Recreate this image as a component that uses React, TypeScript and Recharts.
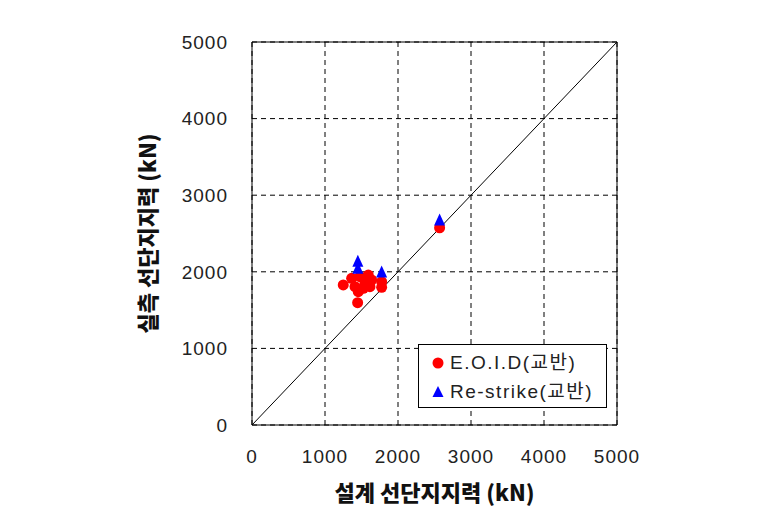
import React from 'react';
import {
  ScatterChart,
  Scatter,
  XAxis,
  YAxis,
  CartesianGrid,
  ReferenceLine,
  ReferenceArea,
  Label,
} from 'recharts';

// 설계 선단지지력 (kN) vs 실측 선단지지력 (kN)
const eoidDesign = [1250, 1447, 1365, 1479, 1593, 1639, 1411, 1525, 1616, 1456, 1548, 1776, 1776, 2570];
const eoidMeasured = [1828, 1597, 1915, 1937, 1958, 1893, 1806, 1785, 1806, 1741, 1850, 1871, 1798, 2575];

const restrikeDesign = [1450, 1450, 1776, 2570];
const restrikeMeasured = [2130, 2040, 1990, 2670];

const axisTicks = [0, 1000, 2000, 3000, 4000, 5000];

const eoidData = eoidDesign.map((x, i) => ({ x, y: eoidMeasured[i] }));
const restrikeData = restrikeDesign.map((x, i) => ({ x, y: restrikeMeasured[i] }));

const tickFont = {
  fontSize: 19,
  fill: '#222',
  fontFamily: '"Liberation Sans", Arial, sans-serif',
  letterSpacing: 1,
};
const labelFont = '"Noto Sans CJK KR", "Noto Sans", sans-serif';

const RedDot = (props: any) => {
  const { cx, cy } = props;
  return <circle cx={cx} cy={cy} r={5.5} fill="#FF0000" />;
};

const BlueTriangle = (props: any) => {
  const { cx, cy } = props;
  const h = 12;
  const w = 11;
  return (
    <polygon
      points={`${cx},${cy - h / 2 - 1} ${cx - w / 2},${cy + h / 2 - 1} ${cx + w / 2},${cy + h / 2 - 1}`}
      fill="#0000FF"
    />
  );
};

const LegendBox = () => (
  <div
    style={{
      position: 'absolute',
      left: 418,
      top: 344,
      border: '1px solid #000',
      background: '#fff',
      width: 189,
      height: 64,
      boxSizing: 'border-box',
      padding: '3px 0 0 11px',
      fontFamily: '"Liberation Sans", "Noto Sans CJK KR", sans-serif',
      fontSize: 19,
      letterSpacing: 1.5,
      color: '#222',
      lineHeight: '29px',
      whiteSpace: 'nowrap',
    }}
  >
    <div style={{ display: 'flex', alignItems: 'center' }}>
      <svg width={16} height={16} style={{ marginRight: 4 }}>
        <circle cx={8} cy={8} r={5.5} fill="#FF0000" />
      </svg>
      E.O.I.D(교반)
    </div>
    <div style={{ display: 'flex', alignItems: 'center' }}>
      <svg width={16} height={16} style={{ marginRight: 4 }}>
        <polygon points="8,2 2.5,13 13.5,13" fill="#0000FF" />
      </svg>
      Re-strike(교반)
    </div>
  </div>
);

const XTitle = (props: any) => {
  const { viewBox } = props;
  return (
    <text
      x={viewBox.x + viewBox.width / 2}
      y={491}
      textAnchor="middle"
      dominantBaseline="central"
      fontFamily={labelFont}
      fontWeight="900"
      fontSize={22}
      fill="#111"
    >
      설계 선단지지력 (kN)
    </text>
  );
};

const YTitle = (props: any) => {
  const { viewBox } = props;
  const cy = viewBox.y + viewBox.height / 2;
  return (
    <text
      x={146}
      y={cy}
      textAnchor="middle"
      dominantBaseline="central"
      transform={`rotate(-90, 146, ${cy})`}
      fontFamily={labelFont}
      fontWeight="900"
      fontSize={22}
      fill="#111"
    >
      실측 선단지지력 (kN)
    </text>
  );
};

export default function App() {
  return (
    <div style={{ position: 'absolute', left: 0, top: 0, width: 757, height: 513, background: '#fff' }}>
      <ScatterChart width={757} height={513} margin={{ top: 42, right: 140, bottom: 0, left: 0 }}>
        <CartesianGrid stroke="#000" strokeDasharray="5 4" strokeWidth={1} />
        <XAxis
          type="number"
          dataKey="x"
          domain={[0, 5000]}
          ticks={axisTicks}
          height={88}
          axisLine={false}
          tickLine={false}
          tickSize={0}
          tickMargin={25}
          tick={tickFont}
        >
          <Label content={<XTitle />} />
        </XAxis>
        <YAxis
          type="number"
          dataKey="y"
          domain={[0, 5000]}
          ticks={axisTicks}
          width={252}
          axisLine={false}
          tickLine={false}
          tickSize={0}
          tickMargin={24}
          tick={tickFont}
        >
          <Label content={<YTitle />} />
        </YAxis>
        <ReferenceArea x1={0} x2={5000} y1={0} y2={5000} fill="none" stroke="#000" strokeWidth={1} />
        <ReferenceLine
          segment={[{ x: 0, y: 0 }, { x: 5000, y: 5000 }]}
          stroke="#000"
          strokeWidth={1}
        />
        <Scatter name="E.O.I.D(교반)" data={eoidData} shape={<RedDot />} isAnimationActive={false} />
        <Scatter name="Re-strike(교반)" data={restrikeData} shape={<BlueTriangle />} isAnimationActive={false} />
      </ScatterChart>
      <LegendBox />
    </div>
  );
}
